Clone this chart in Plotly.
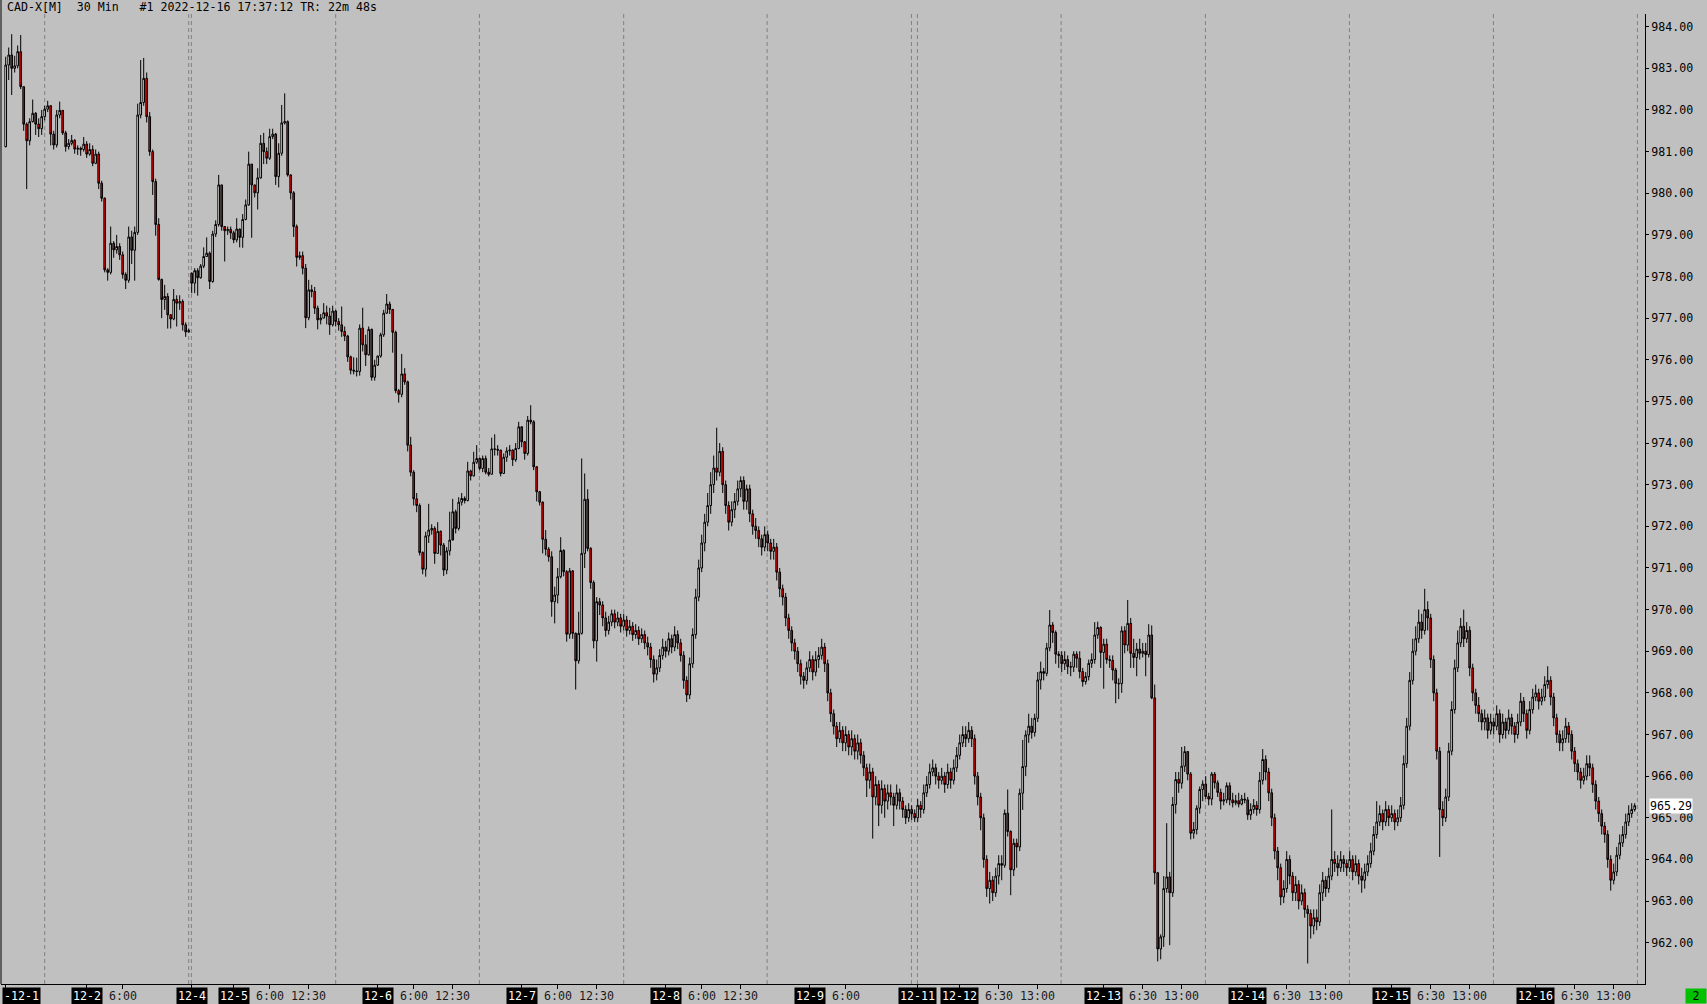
import plotly.graph_objects as go

# ---------------- data (30-min bars) ----------------
first_open = 981.12
gap_opens = {62: 978.08}

close = [
    983.08, 983.32, 983.00, 983.06, 983.40, 982.56, 981.66, 981.26, 981.72, 981.92,
    981.66, 981.55, 981.84, 982.02, 982.10, 981.42, 981.16, 981.88, 981.99, 981.45,
    981.12, 981.20, 981.27, 981.06, 981.08, 981.05, 981.18, 980.94, 981.05, 980.72,
    980.94, 980.24, 979.88, 978.16, 978.10, 978.80, 978.64, 978.72, 978.52, 978.05,
    977.91, 978.95, 978.63, 979.06, 981.88, 982.18, 982.76, 981.84, 981.00, 980.28,
    979.25, 977.93, 977.45, 977.52, 977.08, 976.98, 977.45, 977.36, 977.40, 976.84,
    976.67, 976.70, 977.84, 978.14, 977.97, 978.25, 978.48, 978.56, 977.88, 979.02,
    979.25, 980.20, 979.20, 979.10, 979.13, 979.05, 978.88, 979.14, 978.94, 979.37,
    979.72, 980.70, 980.20, 980.01, 980.37, 981.20, 981.00, 980.84, 981.36, 981.42,
    980.40, 980.96, 981.69, 981.72, 980.44, 980.01, 979.20, 978.46, 978.50, 978.20,
    977.01, 977.68, 977.64, 977.24, 976.96, 977.00, 977.13, 977.05, 976.84, 977.17,
    976.92, 976.84, 976.68, 976.57, 976.07, 975.75, 975.73, 975.72, 976.76, 976.36,
    976.12, 976.73, 975.58, 975.87, 976.09, 976.60, 977.12, 977.34, 977.21, 976.66,
    975.26, 975.17, 975.66, 975.47, 973.95, 973.30, 972.66, 972.50, 971.37, 970.97,
    971.77, 971.91, 971.95, 971.35, 971.88, 971.55, 970.95, 971.41, 971.67, 972.35,
    971.95, 972.58, 972.67, 972.62, 973.33, 973.21, 973.54, 973.63, 973.39, 973.63,
    973.30, 973.25, 973.86, 973.85, 973.83, 973.27, 973.66, 973.81, 973.83, 973.60,
    973.87, 974.39, 974.03, 973.75, 974.55, 974.51, 973.43, 972.83, 972.58, 971.69,
    971.45, 971.27, 970.19, 970.35, 970.79, 971.42, 970.91, 969.41, 970.93, 969.43,
    968.77, 969.43, 971.35, 972.65, 971.47, 970.65, 969.25, 970.19, 970.11, 969.80,
    969.5, 969.7, 969.9, 969.7, 969.8, 969.6, 969.75, 969.5, 969.6, 969.4,
    969.5, 969.3, 969.4, 969.2, 969.1, 968.8, 968.45, 968.6, 968.9, 969.1,
    969.0, 969.3, 969.1, 969.4, 969.2, 968.9, 968.3, 967.95, 968.7, 969.4,
    970.3, 971.0, 971.6, 972.1, 972.5, 973.0, 973.4, 973.3, 973.8, 973.0,
    972.5, 972.1, 972.4, 972.6, 972.9, 973.1, 972.6, 972.9, 972.3, 972.0,
    971.9, 971.7, 971.5, 971.8, 971.6, 971.4, 971.5, 970.9, 970.5, 970.3,
    969.8, 969.5, 969.2, 969.0, 968.7, 968.4, 968.3, 968.6, 968.8, 968.5,
    968.8, 968.9, 969.1, 968.7, 968.0, 967.5, 967.2, 966.9, 967.1, 966.8,
    967.0, 966.7, 966.9, 966.6, 966.8, 966.5, 966.2, 965.9, 966.1, 965.5,
    965.8, 965.3, 965.7, 965.4, 965.6, 965.5, 965.3, 965.6, 965.4, 965.2,
    965.0, 965.2, 965.1, 965.0, 965.3, 965.2, 965.6, 965.8, 966.1, 966.2,
    966.0, 965.9, 966.0, 965.8, 966.1, 965.9, 966.2, 966.5, 966.8, 967.0,
    966.9, 967.1, 966.9, 966.0, 965.5, 965.0, 964.0, 963.3, 963.5, 963.2,
    963.6, 963.9, 963.86, 965.11, 964.67, 963.75, 964.39, 964.30, 965.59, 966.23,
    966.99, 967.20, 967.05, 967.39, 968.31, 968.51, 968.47, 969.08, 969.63, 969.45,
    968.93, 968.90, 968.70, 968.80, 968.63, 968.62, 968.93, 968.83, 968.51, 968.27,
    968.39, 968.71, 968.80, 969.39, 969.57, 968.97, 969.17, 968.80, 968.78, 968.55,
    968.23, 968.22, 969.49, 969.15, 969.67, 968.95, 968.85, 969.05, 968.95, 969.00,
    968.92, 969.39, 967.88, 963.68, 961.85, 962.14, 963.30, 963.58, 963.20, 965.32,
    965.92, 965.83, 966.24, 966.59, 966.05, 964.63, 964.72, 965.23, 965.68, 965.81,
    965.51, 965.45, 966.05, 965.84, 965.61, 965.40, 965.43, 965.77, 965.43, 965.36,
    965.41, 965.33, 965.45, 965.43, 965.07, 965.2, 965.3, 965.2, 965.9, 966.4,
    966.1, 965.6, 965.0, 964.2, 963.8, 963.1, 963.3, 964.0, 963.6, 963.2,
    963.4, 963.0, 963.2, 962.8, 962.7, 962.4, 962.6, 962.5, 963.2, 963.5,
    963.3, 963.6, 964.0, 963.9, 963.8, 964.0, 963.9, 963.8, 964.0, 963.7,
    963.9, 963.6, 963.5, 963.7, 963.9, 964.2, 964.6, 964.9, 965.1, 964.9,
    965.2, 965.0, 965.1, 964.9, 965.0, 965.3, 966.3, 967.2, 968.3, 969.0,
    969.3, 969.7, 969.5, 970.0, 969.8, 968.8, 968.0, 966.6, 965.2, 965.0,
    965.5, 966.6, 967.6, 968.6, 969.2, 969.6, 969.3, 969.5, 968.6, 968.0,
    967.7, 967.5, 967.3, 967.4, 967.1, 967.3, 967.2, 967.5, 967.0, 967.3,
    967.1, 967.4, 967.2, 967.0, 967.3, 967.8, 967.5, 967.1, 967.6, 967.9,
    968.0, 967.8, 967.9, 968.2, 968.3, 967.9, 967.4, 967.0, 966.8, 966.9,
    967.2, 967.0, 966.6, 966.3, 966.1, 965.9, 966.0, 966.3, 966.2, 965.8,
    965.4, 965.1, 964.8, 964.6, 964.0, 963.5, 963.7, 964.1, 964.4, 964.6,
    964.9, 965.1, 965.2, 965.29,
]

high = [
    983.28, 983.50, 983.82, 983.30, 983.55, 983.80, 982.56, 981.70, 981.80, 982.25,
    981.95, 981.80, 982.00, 982.10, 982.22, 982.12, 981.50, 982.00, 982.20, 982.00,
    981.50, 981.30, 981.40, 981.30, 981.15, 981.12, 981.35, 981.25, 981.20, 981.15,
    981.05, 981.00, 980.30, 979.90, 978.20, 979.20, 978.85, 979.00, 978.80, 978.60,
    978.10, 979.20, 979.10, 979.20, 982.15, 983.20, 983.25, 982.90, 981.95, 981.05,
    980.35, 979.40, 977.95, 977.80, 977.60, 977.10, 977.70, 977.55, 977.55, 977.45,
    976.90, 976.75, 978.10, 978.20, 978.20, 978.30, 978.70, 978.94, 978.60, 979.10,
    979.35, 980.44, 980.20, 979.20, 979.20, 979.20, 979.10, 979.40, 979.15, 979.50,
    979.85, 981.00, 980.70, 980.20, 980.60, 981.40, 981.45, 981.10, 981.55, 981.55,
    981.45, 981.20, 982.12, 982.40, 981.75, 980.45, 980.05, 979.25, 978.60, 978.60,
    978.30, 977.92, 977.80, 977.75, 977.30, 977.10, 977.36, 977.30, 977.25, 977.30,
    977.20, 977.00, 977.28, 976.80, 976.60, 976.10, 976.06, 976.05, 976.85, 977.25,
    976.60, 976.80, 976.75, 976.00, 976.10, 976.65, 977.20, 977.58, 977.40, 977.22,
    976.70, 975.30, 976.14, 975.80, 975.50, 974.15, 973.35, 972.80, 972.55, 971.40,
    971.87, 972.54, 972.05, 972.00, 972.10, 971.90, 971.60, 971.50, 972.35, 972.66,
    972.40, 972.70, 972.80, 972.72, 973.55, 973.36, 973.79, 973.95, 973.65, 973.70,
    973.70, 973.40, 974.13, 974.21, 973.95, 973.84, 973.75, 973.90, 973.95, 973.85,
    974.00, 974.51, 974.40, 974.05, 974.65, 974.91, 974.55, 973.45, 972.85, 972.60,
    971.91, 971.50, 971.40, 970.55, 971.00, 971.74, 971.45, 970.95, 971.00, 970.95,
    969.45, 969.95, 973.63, 973.27, 972.89, 971.50, 970.70, 970.30, 970.28, 970.20,
    969.95, 969.85, 970.0, 970.0, 969.95, 969.9, 969.9, 969.85, 969.75, 969.7,
    969.65, 969.6, 969.55, 969.5, 969.35, 969.2, 968.9, 968.8, 969.05, 969.3,
    969.25, 969.45, 969.4, 969.6, 969.5, 969.3, 969.0, 968.4, 968.85, 969.55,
    970.5, 971.2, 971.8, 972.3, 972.8, 973.3, 973.7, 974.37, 974.0, 973.9,
    973.1, 972.6, 972.6, 972.8, 973.1, 973.2, 973.2, 973.0, 973.0, 972.4,
    972.2, 972.0, 971.8, 972.0, 971.9, 971.7, 971.7, 971.6, 971.0, 970.6,
    970.4, 969.9, 969.6, 969.3, 969.1, 968.8, 968.5, 968.75, 969.0, 968.9,
    969.0, 969.1, 969.3, 969.2, 968.8, 968.1, 967.6, 967.3, 967.3, 967.2,
    967.2, 967.1, 967.1, 967.0, 967.0, 966.9, 966.6, 966.3, 966.3, 966.2,
    966.0, 965.9, 965.9, 965.8, 965.8, 965.8, 965.6, 965.8, 965.7, 965.5,
    965.3, 965.35, 965.3, 965.2, 965.45, 965.4, 965.8, 966.0, 966.3, 966.4,
    966.3, 966.1, 966.2, 966.1, 966.3, 966.2, 966.4, 966.7, 967.0, 967.2,
    967.2, 967.3, 967.2, 967.0, 966.1, 965.6, 965.1, 964.1, 963.7, 963.6,
    963.8, 964.1, 964.1, 965.2, 965.68, 964.7, 964.5, 964.5, 965.7, 966.87,
    967.1, 967.5, 967.4, 967.5, 968.5, 968.75, 968.6, 969.2, 969.99, 969.7,
    969.5, 969.0, 969.0, 969.0, 968.9, 968.75, 969.0, 969.0, 969.0, 968.6,
    968.5, 968.8, 968.95, 969.7, 969.71, 969.6, 969.3, 969.3, 968.9, 968.9,
    968.6, 968.35, 969.6, 969.6, 970.23, 969.8, 969.3, 969.2, 969.3, 969.2,
    969.2, 969.65, 969.62, 968.2, 963.7, 962.2, 963.6, 964.87, 963.7, 965.5,
    966.1, 966.1, 966.7, 966.72, 966.6, 966.1, 964.9, 965.3, 965.75, 965.9,
    966.0, 965.6, 966.1, 966.1, 965.9, 965.7, 965.6, 965.85, 965.85, 965.6,
    965.55, 965.6, 965.55, 965.6, 965.5, 965.35, 965.45, 965.4, 966.1, 966.65,
    966.5, 966.2, 965.7, 965.1, 964.3, 963.9, 963.5, 964.2, 964.1, 963.7,
    963.6, 963.5, 963.4, 963.3, 962.9, 962.8, 962.8, 962.8, 963.4, 963.7,
    963.6, 963.8, 965.2, 964.2, 964.1, 964.2, 964.1, 964.0, 964.2, 964.1,
    964.1, 964.0, 963.8, 963.9, 964.1, 964.4, 964.8, 965.4, 965.3, 965.2,
    965.4, 965.3, 965.3, 965.2, 965.2, 965.5, 966.5, 967.4, 968.5, 969.3,
    969.6, 970.0, 969.9, 970.5, 970.2, 969.9, 968.9, 968.1, 966.7, 965.4,
    965.7, 966.8, 967.8, 968.8, 969.5, 969.8, 970.0, 969.7, 969.6, 968.7,
    968.1, 967.9, 967.6, 967.6, 967.5, 967.5, 967.4, 967.7, 967.6, 967.5,
    967.4, 967.6, 967.5, 967.3, 967.5, 968.0, 967.9, 967.6, 967.8, 968.1,
    968.2, 968.1, 968.1, 968.4, 968.64, 968.4, 968.0, 967.5, 967.1, 967.1,
    967.4, 967.3, 967.1, 966.7, 966.4, 966.2, 966.2, 966.5, 966.5, 966.3,
    965.9, 965.5, 965.2, 964.9, 964.7, 964.1, 963.9, 964.3, 964.6, 964.8,
    965.1, 965.3, 965.35, 965.35,
]

low = [
    981.10, 982.72, 982.36, 982.90, 983.00, 982.50, 981.50, 980.10, 981.15, 981.70,
    981.40, 981.35, 981.40, 981.75, 981.95, 981.15, 981.05, 981.10, 981.80, 981.40,
    981.00, 981.05, 981.15, 980.95, 980.92, 980.90, 981.00, 980.85, 980.90, 980.65,
    980.70, 980.10, 979.80, 978.10, 977.90, 978.05, 978.45, 978.55, 978.40, 977.95,
    977.70, 977.85, 978.30, 977.90, 979.00, 981.80, 982.10, 981.70, 980.90, 979.96,
    978.98, 977.90, 977.00, 977.20, 976.75, 976.75, 976.95, 976.80, 977.20, 976.70,
    976.55, 976.65, 977.60, 977.60, 977.54, 977.95, 978.20, 978.48, 977.70, 977.85,
    978.95, 979.20, 979.10, 978.36, 979.00, 978.90, 978.80, 978.82, 978.70, 978.69,
    979.35, 979.70, 978.93, 979.90, 979.61, 980.35, 980.70, 980.70, 980.80, 981.30,
    980.20, 980.14, 980.90, 981.65, 980.40, 979.85, 978.95, 978.24, 978.40, 978.05,
    976.76, 976.95, 977.50, 977.10, 976.73, 976.85, 977.00, 976.85, 976.60, 976.80,
    976.80, 976.70, 976.55, 976.45, 975.95, 975.65, 975.65, 975.60, 975.62, 976.20,
    975.85, 976.10, 975.50, 975.50, 975.85, 976.05, 976.55, 977.10, 977.10, 976.17,
    975.20, 974.97, 975.10, 975.40, 973.80, 973.20, 972.50, 972.34, 971.30, 970.85,
    970.79, 971.60, 971.80, 971.10, 971.35, 971.30, 970.81, 970.85, 971.30, 971.95,
    971.83, 971.90, 972.50, 972.55, 972.60, 973.10, 973.20, 973.50, 973.35, 973.30,
    973.25, 973.20, 973.25, 973.70, 973.70, 973.20, 973.27, 973.55, 973.70, 973.45,
    973.55, 973.85, 973.90, 973.60, 973.70, 974.45, 973.35, 972.60, 972.50, 971.35,
    971.30, 971.15, 969.83, 969.67, 970.15, 970.75, 970.80, 969.23, 969.30, 969.30,
    968.08, 968.70, 969.40, 971.00, 971.40, 970.50, 969.07, 968.75, 969.87, 969.6,
    969.35, 969.4, 969.6, 969.55, 969.6, 969.45, 969.5, 969.35, 969.4, 969.25,
    969.3, 969.15, 969.2, 969.05, 968.9, 968.6, 968.25, 968.3, 968.5, 968.8,
    968.85, 968.9, 968.95, 969.0, 969.05, 968.75, 968.1, 967.78, 967.85, 968.6,
    969.3, 970.2, 970.9, 971.4, 972.0, 972.3, 972.8, 973.1, 973.2, 972.8,
    972.3, 971.9, 972.0, 972.2, 972.5, 972.7, 972.4, 972.4, 972.1, 971.8,
    971.7, 971.5, 971.3, 971.4, 971.4, 971.2, 971.2, 970.7, 970.3, 970.1,
    969.6, 969.3, 969.0, 968.8, 968.5, 968.2, 968.1, 968.2, 968.5, 968.3,
    968.4, 968.6, 968.8, 968.5, 967.8, 967.3, 967.0, 966.7, 966.8, 966.6,
    966.6, 966.5, 966.5, 966.4, 966.4, 966.3, 966.0, 965.5, 965.7, 964.5,
    965.3, 964.8, 965.1, 965.0, 965.2, 965.3, 964.8, 965.2, 965.2, 965.0,
    964.85, 964.9, 964.95, 964.9, 964.9, 965.0, 965.1, 965.5, 965.7, 966.0,
    965.8, 965.7, 965.8, 965.6, 965.7, 965.7, 965.8, 966.1, 966.4, 966.7,
    966.7, 966.8, 966.7, 965.8, 965.3, 964.7, 963.8, 963.1, 962.94, 963.0,
    963.1, 963.4, 963.5, 963.8, 964.55, 963.14, 963.6, 963.8, 964.2, 965.19,
    966.0, 966.8, 966.9, 966.95, 967.3, 968.08, 968.3, 968.4, 969.0, 969.2,
    968.7, 968.6, 968.5, 968.55, 968.45, 968.4, 968.5, 968.6, 968.35, 968.15,
    968.2, 968.3, 968.6, 968.7, 969.3, 968.6, 968.1, 968.7, 968.6, 968.3,
    967.75, 967.85, 968.0, 968.95, 969.0, 968.6, 968.6, 968.4, 968.8, 968.85,
    968.4, 968.85, 967.85, 963.4, 961.55, 961.6, 961.9, 963.2, 961.94, 963.1,
    965.1, 965.6, 965.7, 966.1, 965.9, 964.48, 964.5, 964.6, 965.1, 965.4,
    965.45, 965.3, 965.3, 965.7, 965.5, 965.2, 965.3, 965.35, 965.3, 965.25,
    965.3, 965.25, 965.3, 965.35, 964.95, 964.95, 965.1, 965.05, 965.1, 965.8,
    965.9, 965.4, 964.8, 964.0, 963.5, 962.9, 962.95, 963.2, 963.4, 963.0,
    963.0, 962.8, 962.9, 962.6, 961.5, 962.1, 962.2, 962.3, 962.4, 963.0,
    963.1, 963.2, 963.5, 963.7, 963.6, 963.7, 963.7, 963.6, 963.7, 963.5,
    963.6, 963.4, 963.2, 963.3, 963.6, 963.8, 964.1, 964.5, 964.8, 964.7,
    964.8, 964.8, 964.9, 964.7, 964.8, 964.9, 965.2, 966.2, 967.1, 968.2,
    968.9, 969.2, 969.3, 969.4, 969.5, 968.6, 967.8, 966.4, 964.06, 964.8,
    964.9, 965.4, 966.5, 967.5, 968.5, 969.1, 969.1, 969.2, 968.4, 967.8,
    967.5, 967.3, 967.1, 967.1, 966.9, 967.0, 967.0, 967.1, 966.8, 966.9,
    966.9, 967.0, 967.0, 966.8, 966.9, 967.2, 967.3, 966.9, 967.0, 967.5,
    967.8, 967.6, 967.7, 967.8, 968.1, 967.7, 967.2, 966.8, 966.6, 966.6,
    966.8, 966.8, 966.4, 966.1, 965.9, 965.7, 965.8, 965.9, 966.0, 965.6,
    965.2, 964.9, 964.6, 964.4, 963.8, 963.25, 963.4, 963.6, 964.0, 964.3,
    964.5, 964.8, 965.0, 965.15,
]

# bar index of each axis label
date_ticks = [0, 27, 62, 76, 124, 172, 220, 268, 304, 318, 366, 414, 462, 510]
date_labels = ["-12-1", "12-2", "12-4", "12-5", "12-6", "12-7", "12-8", "12-9",
               "12-11", "12-12", "12-13", "12-14", "12-15", "12-16"]
time_ticks = [39, 88, 101, 136, 149, 184, 197, 232, 245, 280, 331, 344, 379, 392,
              427, 440, 475, 488, 523, 536]
time_labels = ["6:00", "6:00", "12:30", "6:00", "12:30", "6:00", "12:30", "6:00",
               "12:30", "6:00", "6:30", "13:00", "6:30", "13:00", "6:30", "13:00",
               "6:30", "13:00", "6:30", "13:00"]
session_breaks = [13.0, 61.0, 61.9, 110.0, 157.9, 206.0, 253.8, 301.9, 303.9,
                  351.8, 399.9, 447.9, 495.9, 543.9]
last_price = 965.29
title_text = "CAD-X[M]  30 Min   #1 2022-12-16 17:37:12 TR: 22m 48s"

# ---------------- build ----------------
n = min(len(close), len(high), len(low))
close = close[:n]; high = high[:n]; low = low[:n]
opens = [first_open] + close[:-1]
for k, v in gap_opens.items():
    opens[k] = v
idx = list(range(n))

FONT = "DejaVu Sans Mono"
FS = 11.6
BG = "#C0C0C0"

fig = go.Figure()
fig.add_trace(go.Candlestick(
    x=idx, open=opens, high=high, low=low, close=close,
    increasing=dict(fillcolor="#FFFFFF", line=dict(color="#000000", width=1)),
    decreasing=dict(fillcolor="#FF0000", line=dict(color="#000000", width=1)),
    whiskerwidth=0, showlegend=False, hoverinfo="skip",
))

shapes = []
for b in session_breaks:
    shapes.append(dict(type="line", xref="x", yref="paper", x0=b, x1=b, y0=0, y1=1,
                       line=dict(color="#808080", width=1, dash="4px,3px"), layer="below"))
shapes.append(dict(type="line", xref="paper", yref="paper", x0=0, x1=0, y0=0, y1=1.02,
                   line=dict(color="#000000", width=1)))

ann = []
ann.append(dict(text=title_text.replace(" ", "\u00a0"), xref="paper", yref="paper",
                x=0, y=1, xanchor="left", yanchor="middle", xshift=4, yshift=7,
                showarrow=False, font=dict(family=FONT, size=FS, color="#000000")))
for t, lab in zip(date_ticks, date_labels):
    a = dict(text=lab, xref="x", yref="paper", x=t, y=0, yanchor="middle",
             xanchor="center", yshift=-11.5, showarrow=False, bgcolor="#000000",
             borderpad=1, font=dict(family=FONT, size=FS, color="#FFFFFF"))
    if t == 0:
        a["xanchor"] = "left"
        a["xshift"] = -4
    ann.append(a)
for t, lab in zip(time_ticks, time_labels):
    ann.append(dict(text=lab, xref="x", yref="paper", x=t, y=0, yanchor="middle",
                    xanchor="center", yshift=-11.5, showarrow=False,
                    font=dict(family=FONT, size=FS, color="#1a1a1a")))
ann.append(dict(text=f"{last_price:.2f}", xref="paper", yref="y", x=1, y=last_price,
                xanchor="left", yanchor="middle", xshift=4, showarrow=False,
                bgcolor="#FFFFFF", borderpad=0,
                font=dict(family=FONT, size=FS, color="#000000")))
ann.append(dict(text="2", xref="paper", yref="paper", x=1, y=0, xanchor="center",
                yanchor="middle", xshift=50.5, yshift=-11.5, showarrow=False,
                bgcolor="#00C000", width=20, height=14, borderpad=0,
                font=dict(family=FONT, size=FS, color="#000000")))

fig.update_layout(
    width=1707, height=1004,
    margin=dict(l=1, r=62, t=14, b=20, pad=0),
    paper_bgcolor=BG, plot_bgcolor=BG,
    boxgap=0.2,
    shapes=shapes, annotations=ann,
    xaxis=dict(range=[-1.567, 546.43], rangeslider=dict(visible=False),
               showgrid=False, zeroline=False, showline=True, linecolor="#000000",
               linewidth=1, tickmode="array", tickvals=date_ticks + time_ticks,
               showticklabels=False, ticks="outside", ticklen=4, tickcolor="#000000"),
    yaxis=dict(side="right", range=[961.008, 984.305], showgrid=False, zeroline=False,
               showline=True, linecolor="#000000", linewidth=1,
               tickmode="linear", tick0=962, dtick=1, tickformat=".2f",
               ticks="outside", ticklen=3, tickcolor="#000000",
               tickfont=dict(family=FONT, size=FS, color="#000000")),
    font=dict(family=FONT, size=FS, color="#000000"),
)

fig.write_html("out.html", config={"displayModeBar": False},
               post_script="document.body.style.margin='0';document.body.style.background='#C0C0C0';")
